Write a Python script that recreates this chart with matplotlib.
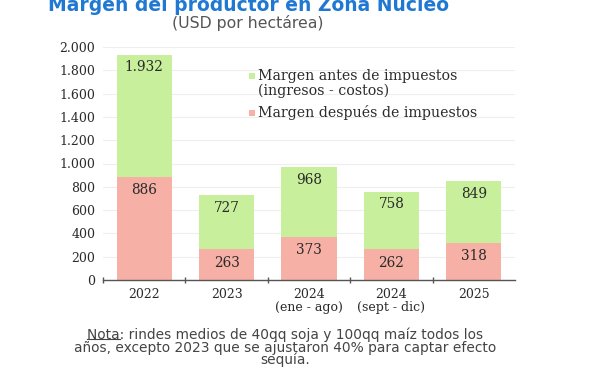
import matplotlib
matplotlib.use("Agg")
import matplotlib.pyplot as plt
from matplotlib.patches import Rectangle
from matplotlib.lines import Line2D

categories = ["2022", "2023", "2024\n(ene - ago)", "2024\n(sept - dic)", "2025"]
antes = [1932, 727, 968, 758, 849]
despues = [886, 263, 373, 262, 318]
antes_labels = ["1.932", "727", "968", "758", "849"]
despues_labels = ["886", "263", "373", "262", "318"]
yticks = [0, 200, 400, 600, 800, 1000, 1200, 1400, 1600, 1800, 2000]
ytick_labels = ["0", "200", "400", "600", "800", "1.000", "1.200", "1.400", "1.600", "1.800", "2.000"]
legend_labels = ["Margen antes de impuestos", "(ingresos - costos)", "Margen después de impuestos"]
note_lines = ["Nota: rindes medios de 40qq soja y 100qq maíz todos los",
              "años, excepto 2023 que se ajustaron 40% para captar efecto",
              "sequía."]

GREEN = "#c8f09c"
RED = "#f7b0a5"
SERIF = "DejaVu Serif"
TXT = "#2a2a2a"

fig = plt.figure(figsize=(6.0, 3.73), dpi=100)
fig.patch.set_facecolor("white")
ax = fig.add_axes([103/600, 1-280/373, 412/600, 233/373])

x = list(range(len(categories)))
w = 0.67
ax.bar(x, antes, width=w, color=GREEN, zorder=2)
ax.bar(x, despues, width=w, color=RED, zorder=3)

for xi, v, lab in zip(x, antes, antes_labels):
    ax.annotate(lab, (xi, v), xytext=(0, -9), textcoords="offset points",
                ha="center", va="center", fontsize=9.8, fontfamily=SERIF,
                color=TXT, zorder=5)
for xi, v, lab in zip(x, despues, despues_labels):
    ax.annotate(lab, (xi, v), xytext=(0, -9.5), textcoords="offset points",
                ha="center", va="center", fontsize=9.8, fontfamily=SERIF,
                color=TXT, zorder=5)

ax.set_xlim(-0.5, len(categories) - 0.5)
ax.set_ylim(0, 2000)
ax.set_yticks(yticks)
ax.set_yticklabels(ytick_labels, fontfamily=SERIF, fontsize=9, color=TXT)
ax.set_xticks(x)
ax.set_xticklabels(categories, fontfamily=SERIF, fontsize=9, color=TXT,
                   linespacing=1.0)
ax.set_xticks([i - 0.5 for i in x], minor=True)
ax.tick_params(axis="x", which="major", length=0, pad=6)
ax.tick_params(axis="x", which="minor", length=5, direction="inout", color="#555555", width=1)
ax.tick_params(axis="y", length=0, pad=5.5)

ax.grid(axis="y", color="#eeeeee", linewidth=0.8, zorder=0)
ax.set_axisbelow(True)
for s in ["top", "right", "left"]:
    ax.spines[s].set_visible(False)
ax.spines["bottom"].set_color("#555555")
ax.spines["bottom"].set_linewidth(1.0)
ax.spines["bottom"].set_zorder(6)

# legend (manual)
leg_x = 258/600
leg_rows = [76, 91, 113]
leg_colors = [GREEN, None, RED]
for lab, yy, col in zip(legend_labels, leg_rows, leg_colors):
    fig.text(leg_x, 1-yy/373, lab, ha="left", va="center", fontsize=10.2,
             fontfamily=SERIF, color=TXT)
    if col is not None:
        fig.add_artist(Rectangle((249/600, 1-(yy+3)/373), 6/600, 6/373,
                                 facecolor=col, edgecolor="none", transform=fig.transFigure))

fig.text(248/600, 1-11/373, "Margen del productor en Zona Núcleo", ha="center", va="baseline",
         fontsize=13.5, fontweight="bold", color="#1f78d1", fontfamily="DejaVu Sans")
fig.text(248/600, 1-23/373, "(USD por hectárea)", ha="center", va="center",
         fontsize=11.3, color="#555555", fontfamily="DejaVu Sans")

# footnote as a single multi-line text
NOTE_FS = 9.9
note = fig.text(285/600, 1-328/373, "\n".join(note_lines), ha="center", va="top",
                fontsize=NOTE_FS, color="#444444", fontfamily="DejaVu Sans",
                linespacing=0.82, multialignment="center")

# underline "Nota"
fig.canvas.draw()
renderer = fig.canvas.get_renderer()
bb = note.get_window_extent(renderer)
t1 = fig.text(0, 0, note_lines[0], fontsize=NOTE_FS, fontfamily="DejaVu Sans")
bb1 = t1.get_window_extent(renderer)
t1.remove()
t2 = fig.text(0, 0, "Nota", fontsize=NOTE_FS, fontfamily="DejaVu Sans")
wn = t2.get_window_extent(renderer).width
t2.remove()
_, h1, d1 = renderer.get_text_width_height_descent(note_lines[0], note.get_fontproperties(), ismath=False)
cx = (bb.x0 + bb.x1) / 2
lx0 = cx - bb1.width / 2
base_y = bb.y1 - (h1 - d1)
uy = base_y + 0.5
fig.add_artist(Line2D([lx0/600, (lx0+wn)/600], [uy/373, uy/373], color="#444444", linewidth=0.8,
                      transform=fig.transFigure))

fig.savefig("out.png", dpi=100, facecolor="white")
